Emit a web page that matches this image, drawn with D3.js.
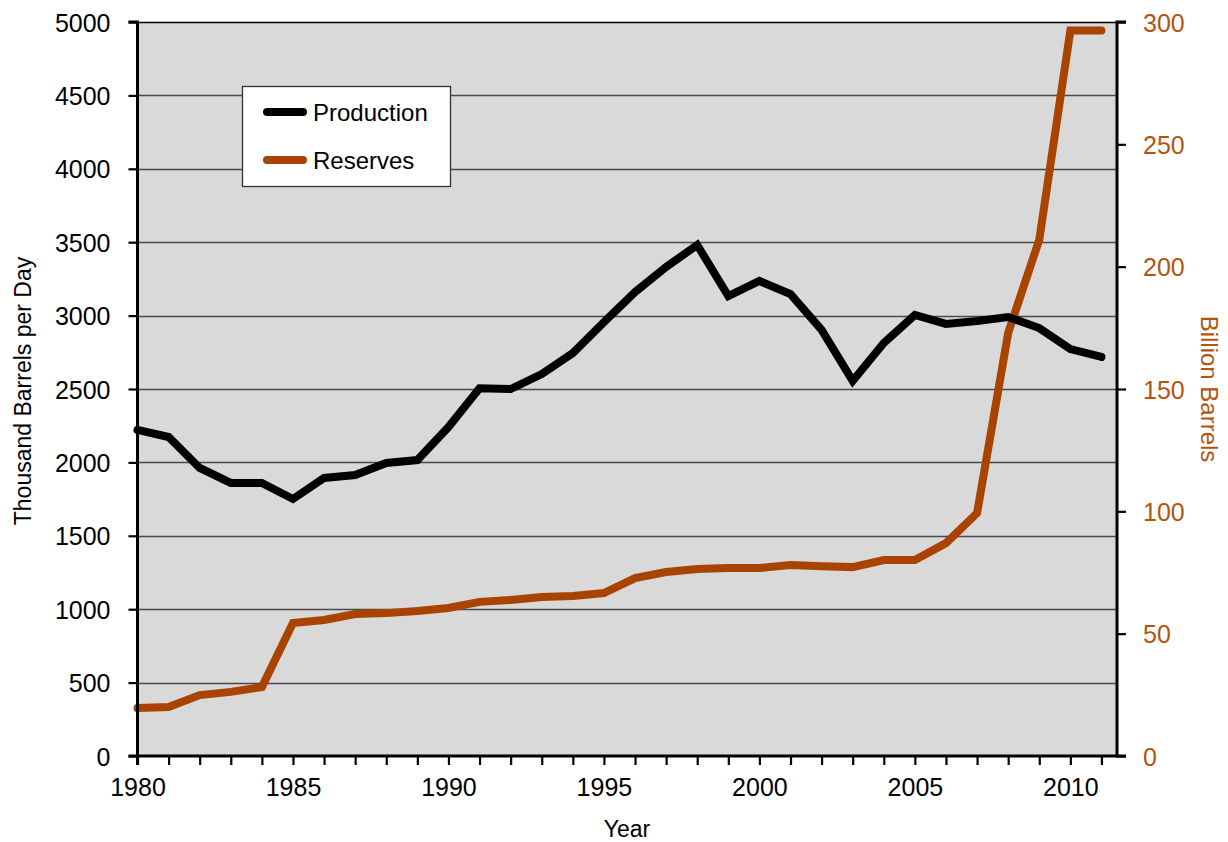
<!DOCTYPE html>
<html>
<head>
<meta charset="utf-8">
<script src="https://cdn.jsdelivr.net/npm/d3@7"></script>
<style>
  html, body { margin: 0; padding: 0; background: #fff; }
  svg { display: block; }
  text { font-family: "Liberation Sans", Arial, sans-serif; }
</style>
</head>
<body>
<svg id="chart" width="1228" height="842"></svg>
<script>
const years = d3.range(1980, 2012);
const production = [2221, 2173, 1962, 1860, 1860, 1751, 1894, 1914, 1996, 2016,
  2241, 2505, 2500, 2602, 2745, 2955, 3160, 3331, 3481, 3133,
  3236, 3147, 2902, 2555, 2813, 3004, 2943, 2963, 2990, 2915,
  2772, 2718];
const reserves = [19.6, 20.0, 24.9, 26.2, 28.2, 54.4, 55.6, 58.0, 58.4, 59.3,
  60.5, 63.0, 63.8, 65.0, 65.4, 66.6, 72.7, 75.2, 76.4, 76.8,
  76.8, 78.1, 77.6, 77.2, 80.1, 80.1, 87.0, 99.3, 172.9, 211.0,
  296.5, 296.5];
const leftTicks = [0, 500, 1000, 1500, 2000, 2500, 3000, 3500, 4000, 4500, 5000];
const rightTicks = [0, 50, 100, 150, 200, 250, 300];
const labelYears = [1980, 1985, 1990, 1995, 2000, 2005, 2010];
const seriesNames = ["Production", "Reserves"];

const colProd = "#000000";
const colRes = "#A84400";
const colResText = "#B4540E";

const svg = d3.select("#chart");
const L = 137.5, R = 1117, T = 22, B = 756;

const x = d3.scaleLinear().domain([1980, 2011.5]).range([L, R]);
const yL = d3.scaleLinear().domain([0, 5000]).range([B, T]);
const yR = d3.scaleLinear().domain([0, 300]).range([B, T]);

// plot background
svg.append("rect").attr("x", L).attr("y", T).attr("width", R - L).attr("height", B - T)
  .attr("fill", "#D9D9D9");

// gridlines
svg.append("g").selectAll("line").data(leftTicks.filter(d => d > 0 && d < 5000)).join("line")
  .attr("x1", L).attr("x2", R)
  .attr("y1", d => Math.round(yL(d)) + 0.5).attr("y2", d => Math.round(yL(d)) + 0.5)
  .attr("stroke", "#4a4a4a").attr("stroke-width", 1.3);
// top border
svg.append("line").attr("x1", L).attr("x2", R).attr("y1", T + 0.5).attr("y2", T + 0.5)
  .attr("stroke", "#000").attr("stroke-width", 1.3);

// lines
const lineProd = d3.line().x((d, i) => x(years[i])).y(d => yL(d));
const lineRes = d3.line().x((d, i) => x(years[i])).y(d => yR(d));
svg.append("path").datum(reserves).attr("d", lineRes)
  .attr("fill", "none").attr("stroke", colRes).attr("stroke-width", 8)
  .attr("stroke-linejoin", "miter").attr("stroke-linecap", "round");
svg.append("path").datum(production).attr("d", lineProd)
  .attr("fill", "none").attr("stroke", colProd).attr("stroke-width", 8)
  .attr("stroke-linejoin", "miter").attr("stroke-linecap", "round");

// axes
const fontSize = 25;
const axL = svg.append("g").attr("transform", `translate(${L},0)`)
  .call(d3.axisLeft(yL).tickValues(leftTicks).tickSize(9).tickPadding(18).tickFormat(d3.format("d")));
const axR = svg.append("g").attr("transform", `translate(${R},0)`)
  .call(d3.axisRight(yR).tickValues(rightTicks).tickSize(9).tickPadding(17).tickFormat(d3.format("d")));
const axB = svg.append("g").attr("transform", `translate(0,${B})`)
  .call(d3.axisBottom(x).tickValues(years).tickSize(9).tickPadding(12)
    .tickFormat(d => labelYears.includes(d) ? String(d) : ""));

[axL, axR, axB].forEach(ax => {
  ax.select(".domain").attr("stroke", "#000").attr("stroke-width", 3);
  ax.selectAll(".tick line").attr("stroke", "#000").attr("stroke-width", 2.2);
  ax.selectAll(".tick text").attr("font-size", fontSize)
    .attr("font-family", "'Liberation Sans', Arial, sans-serif").attr("fill", "#000");
});
axL.select(".domain").attr("d", `M-9,${B}H0V${T}H-9`);
axR.select(".domain").attr("d", `M9,${B}H0V${T}H9`);
axB.select(".domain").attr("d", `M${L},9V0H${R}`);
axR.selectAll(".tick text").attr("fill", colResText);
axL.selectAll(".tick text").attr("dy", "0.36em");
axR.selectAll(".tick text").attr("dy", "0.36em");
axB.selectAll(".tick text").attr("dy", "0.75em");

// axis titles
svg.append("text").attr("transform", `translate(31,${(T + B) / 2 + 2}) rotate(-90)`)
  .attr("text-anchor", "middle").attr("font-size", 23).attr("fill", "#000")
  .text("Thousand Barrels per Day");
svg.append("text").attr("transform", `translate(1201,${(T + B) / 2}) rotate(90)`)
  .attr("text-anchor", "middle").attr("font-size", 24).attr("fill", colResText)
  .text("Billion Barrels");
svg.append("text").attr("x", 627).attr("y", 837)
  .attr("text-anchor", "middle").attr("font-size", 23).attr("fill", "#000")
  .text("Year");

// legend
const lg = svg.append("g");
lg.append("rect").attr("x", 242.5).attr("y", 86.5).attr("width", 208).attr("height", 100)
  .attr("fill", "#fff").attr("stroke", "#333").attr("stroke-width", 1.3);
const legendColors = [colProd, colRes];
const legendY = [112, 160];
seriesNames.forEach((name, i) => {
  lg.append("line").attr("x1", 267).attr("x2", 303).attr("y1", legendY[i]).attr("y2", legendY[i])
    .attr("stroke", legendColors[i]).attr("stroke-width", 8).attr("stroke-linecap", "round");
  lg.append("text").attr("x", 313).attr("y", legendY[i]).attr("dy", "0.36em")
    .attr("font-size", 24).attr("fill", "#000").text(name);
});
</script>
</body>
</html>
